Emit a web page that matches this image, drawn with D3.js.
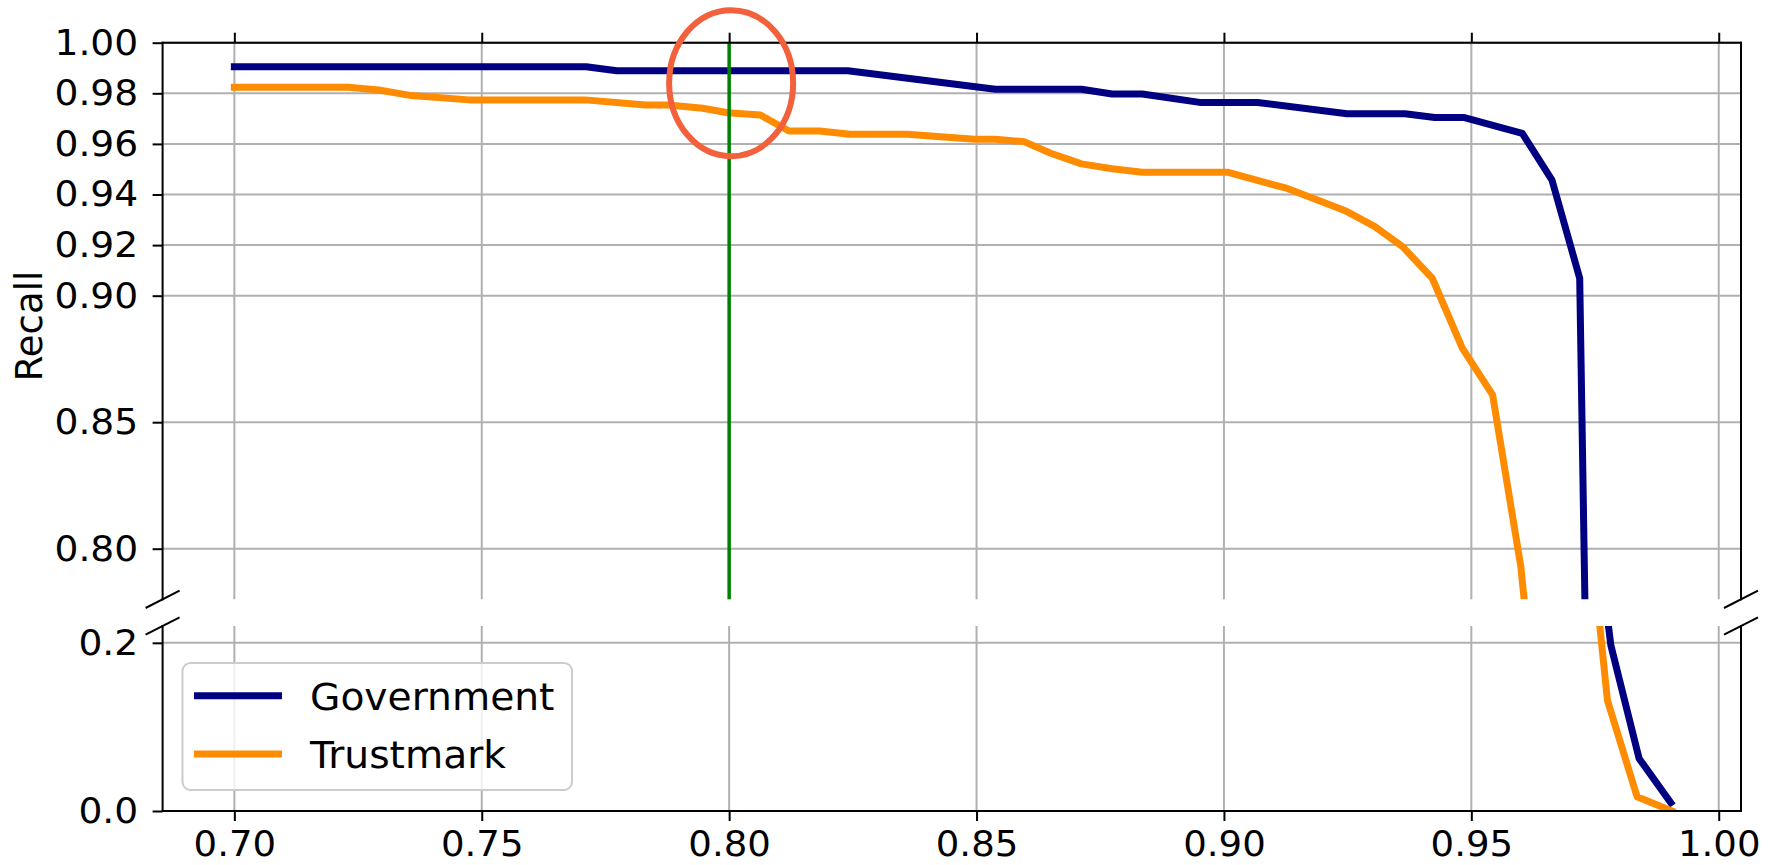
<!DOCTYPE html>
<html>
<head>
<meta charset="utf-8">
<script src="https://cdn.jsdelivr.net/npm/d3@7"></script>
<style>
  body { margin: 0; background: #fff; }
  text { font-family: "DejaVu Sans", sans-serif; fill: #000; }
</style>
</head>
<body>
<svg id="chart" width="1770" height="865"></svg>
<script>
// precision (x) / recall (y)
const govPrecision = [0.700, 0.7711, 0.7773, 0.8240, 0.8538, 0.8712, 0.8774, 0.8835, 0.8951, 0.9068,
  0.9249, 0.9366, 0.9426, 0.9486, 0.9603, 0.9663, 0.9719, 0.9775, 0.9782, 0.9839, 0.9903];
const govRecall = [0.9905, 0.9905, 0.9889, 0.9889, 0.9816, 0.9816, 0.9797, 0.9797, 0.9764, 0.9764,
  0.9719, 0.9719, 0.9704, 0.9704, 0.9642, 0.9457, 0.9069, 0.230, 0.197, 0.0625, 0.010];

const trustPrecision = [0.700, 0.7230, 0.7292, 0.7358, 0.7474, 0.7709, 0.7831, 0.7877, 0.7947, 0.7997,
  0.8063, 0.8121, 0.8183, 0.8244, 0.8360, 0.8496, 0.8538, 0.8596, 0.8650, 0.8712,
  0.8774, 0.8835, 0.9007, 0.9128, 0.9189, 0.9245, 0.9305, 0.9361, 0.9421, 0.9482,
  0.9543, 0.9600, 0.9690, 0.9775, 0.9835, 0.9905];
const trustRecall = [0.9824, 0.9824, 0.9813, 0.9791, 0.9774, 0.9774, 0.9754, 0.9754, 0.9741, 0.9723,
  0.9714, 0.9651, 0.9651, 0.9638, 0.9638, 0.9618, 0.9618, 0.9609, 0.9563, 0.9521,
  0.9502, 0.9488, 0.9488, 0.9424, 0.9378, 0.9336, 0.9273, 0.9194, 0.9069, 0.8792,
  0.8608, 0.7929, 0.620, 0.1317, 0.017, 0.000];

const seriesNames = ["Government", "Trustmark"];
const seriesColors = ["#000080", "#ff8c00"];

const xTicks = [0.70, 0.75, 0.80, 0.85, 0.90, 0.95, 1.00];
const topTicks = [0.80, 0.85, 0.90, 0.92, 0.94, 0.96, 0.98, 1.00];
const bottomTicks = [0.0, 0.2];
const threshold = 0.80;

const left = 162.6, right = 1741;
const topY0 = 42.7, topY1 = 599.3, botY0 = 626, botY1 = 811;
const stretch = "scale(1.06,1)";
const lineW = 7;

const svg = d3.select("#chart");

const x = d3.scaleLinear().domain([0.6855, 1.0045]).range([left, right]);
const yTop = d3.scaleLinear().domain([0.78, 1.00]).range([topY1, topY0]);
const yBot = d3.scaleLinear().domain([0, 0.22]).range([botY1, botY0]);

const series = [
  govPrecision.map((p, i) => [p, govRecall[i]]),
  trustPrecision.map((p, i) => [p, trustRecall[i]])
];

function drawPanel(name, y, ticks, fmt) {
  const [y1, y0] = y.range();
  const g = svg.append("g");

  svg.append("clipPath").attr("id", "clip-" + name)
    .append("rect").attr("x", left).attr("y", y0).attr("width", right - left).attr("height", y1 - y0);

  // grid
  g.selectAll(".vgrid").data(xTicks).enter().append("line")
    .attr("x1", d => x(d)).attr("x2", d => x(d)).attr("y1", y0).attr("y2", y1)
    .attr("stroke", "#b0b0b0").attr("stroke-width", 2);
  g.selectAll(".hgrid").data(ticks).enter().append("line")
    .attr("x1", left).attr("x2", right).attr("y1", d => y(d)).attr("y2", d => y(d))
    .attr("stroke", "#b0b0b0").attr("stroke-width", 2);

  // lines
  const line = d3.line().x(d => x(d[0])).y(d => y(d[1]));
  const lg = g.append("g").attr("clip-path", "url(#clip-" + name + ")");
  series.forEach((s, i) => {
    lg.append("path").datum(s).attr("d", line)
      .attr("fill", "none").attr("stroke", seriesColors[i]).attr("stroke-width", lineW)
      .attr("stroke-linejoin", "round").attr("stroke-linecap", "square");
  });

  // y axis
  const ax = g.append("g").attr("transform", "translate(" + left + ",0)")
    .call(d3.axisLeft(y).tickValues(ticks).tickFormat(d3.format(fmt)).tickSize(10).tickSizeOuter(0).tickPadding(13));
  ax.select(".domain").remove();
  ax.selectAll(".tick line").attr("stroke-width", 2);
  ax.selectAll("text").attr("font-size", 35.5).attr("transform", stretch);
  return g;
}

const gTop = drawPanel("top", yTop, topTicks, ".2f");
const gBot = drawPanel("bot", yBot, bottomTicks, ".1f");

// threshold line in top panel
gTop.append("line")
  .attr("x1", x(threshold)).attr("x2", x(threshold))
  .attr("y1", yTop(1.00)).attr("y2", yTop(0.78))
  .attr("stroke", "#008000").attr("stroke-width", 3.5);

// spines
const spine = (x1, y1, x2, y2) => svg.append("line")
  .attr("x1", x1).attr("y1", y1).attr("x2", x2).attr("y2", y2)
  .attr("stroke", "#000").attr("stroke-width", 2).attr("stroke-linecap", "square");
spine(left, topY0, right, topY0);
spine(left, topY0, left, topY1);
spine(right, topY0, right, topY1);
spine(left, botY1, right, botY1);
spine(left, botY0, left, botY1);
spine(right, botY0, right, botY1);

// x ticks: top of upper panel, labels below lower panel
const axTop = svg.append("g").attr("transform", "translate(0," + topY0 + ")")
  .call(d3.axisTop(x).tickValues(xTicks).tickSize(10).tickSizeOuter(0).tickFormat(""));
axTop.select(".domain").remove();
axTop.selectAll(".tick line").attr("stroke-width", 2);

const axBot = svg.append("g").attr("transform", "translate(0," + botY1 + ")")
  .call(d3.axisBottom(x).tickValues(xTicks).tickSize(10).tickSizeOuter(0).tickPadding(10).tickFormat(d3.format(".2f")));
axBot.select(".domain").remove();
axBot.selectAll(".tick line").attr("stroke-width", 2);
axBot.selectAll("text").attr("font-size", 35).attr("transform", stretch);

// break marks
[[left, topY1], [right, topY1], [left, botY0], [right, botY0]].forEach(([bx, by]) => {
  svg.append("line")
    .attr("x1", bx - 17).attr("y1", by + 8.7).attr("x2", bx + 17).attr("y2", by - 8.7)
    .attr("stroke", "#000").attr("stroke-width", 2);
});

// y label
svg.append("text")
  .attr("transform", "translate(42,326) rotate(-90)")
  .attr("text-anchor", "middle")
  .attr("font-size", 37)
  .text("Recall");

// legend
const leg = svg.append("g");
leg.append("rect")
  .attr("x", 182.5).attr("y", 663).attr("width", 389.5).attr("height", 127).attr("rx", 8)
  .attr("fill", "#fff").attr("fill-opacity", 0.8).attr("stroke", "#cccccc").attr("stroke-width", 2);
seriesNames.forEach((n, i) => {
  const ly = 695.7 + i * 58.3;
  leg.append("line").attr("x1", 194).attr("x2", 282).attr("y1", ly).attr("y2", ly)
    .attr("stroke", seriesColors[i]).attr("stroke-width", lineW).attr("stroke-linecap", "butt");
  leg.append("text").attr("x", 0).attr("y", 0)
    .attr("transform", "translate(310," + (ly + 14) + ") " + stretch)
    .attr("font-size", 37).text(n);
});

// highlight ellipse around the threshold point
svg.append("ellipse")
  .attr("cx", x(threshold) + 2).attr("cy", yTop(0.984))
  .attr("rx", 62).attr("ry", 73)
  .attr("fill", "none").attr("stroke", "#f2603c").attr("stroke-width", 6);
</script>
</body>
</html>
